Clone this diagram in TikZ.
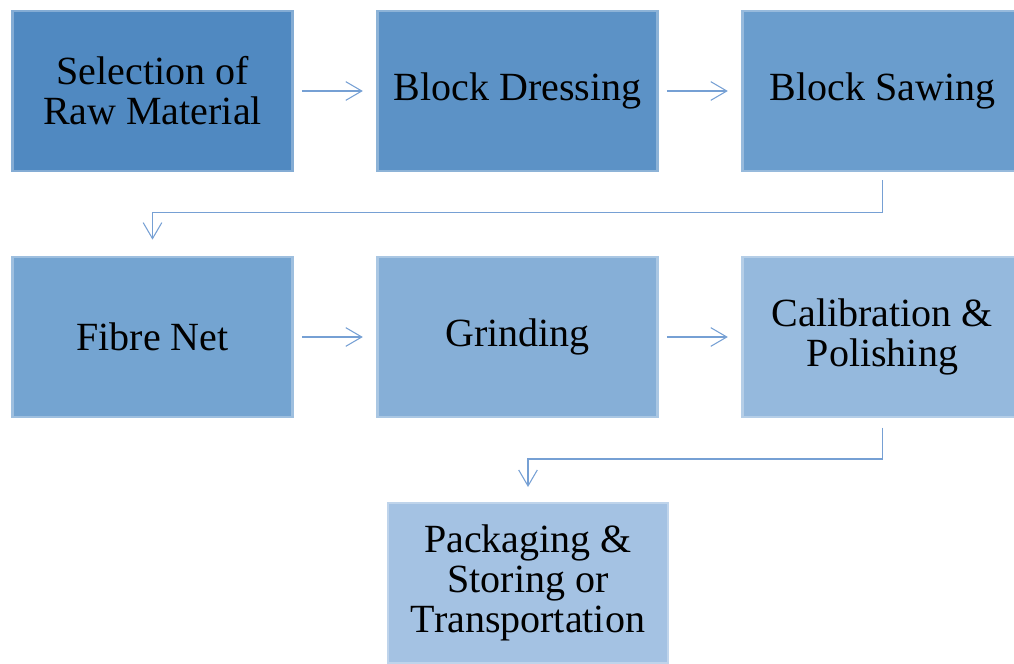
\documentclass[tikz,border=0pt]{standalone}
\usepackage{fontspec}
\setmainfont{Liberation Serif}
\usetikzlibrary{positioning}
\usetikzlibrary{arrows.meta}
\definecolor{stepA}{RGB}{80,137,193}
\definecolor{stepB}{RGB}{92,146,198}
\definecolor{stepC}{RGB}{106,157,205}
\definecolor{stepD}{RGB}{116,164,209}
\definecolor{stepE}{RGB}{134,175,215}
\definecolor{stepF}{RGB}{149,185,221}
\definecolor{stepG}{RGB}{164,194,227}
\definecolor{flowline}{RGB}{118,160,212}
\tikzset{
    % Soft blue process box
    process box/.style={
        fill=#1, draw=#1!70!white, line width=2pt,
        minimum width=210pt, minimum height=120pt,
        inner sep=0, outer sep=0, align=center,
        font=\fontsize{30}{30}\selectfont},
%
    % Thin connector with an open arrow head
    flow/.style={draw=flowline, line width=0.8pt,
        -{Straight Barb[length=12pt, width=14pt]}}}

\begin{document}
\begin{tikzpicture}[x=0.75pt, y=-0.75pt, node distance=64.5pt and 63.75pt]
\useasboundingbox (0,0) rectangle (1014,664);

% First row
\node[process box=stepA] at (152.5,91) (selection) {Selection of\\Raw Material};
\node[process box=stepB, right=of selection] (dressing) {Block Dressing};
\node[process box=stepC, right=of dressing] (sawing) {Block Sawing};

% Second row
\node[process box=stepD, below=of selection] (fibre) {Fibre Net};
\node[process box=stepE, right=of fibre] (grinding) {Grinding};
\node[process box=stepF, right=of grinding] (polishing)
    {Calibration \&\\Polishing};

% Last step
\node[process box=stepG] at (528,583) (packaging)
    {Packaging \&\\Storing or\\Transportation};

\draw[flow, shorten <=7pt, shorten >=11pt] (selection) -- (dressing);
\draw[flow, shorten <=7pt, shorten >=11pt] (dressing) -- (sawing);
\draw[flow, shorten <=7pt, shorten >=13pt]
    (sawing.south) -- ++(0,-31pt) -| (fibre.north);

\draw[flow, shorten <=7pt, shorten >=11pt] (fibre) -- (grinding);
\draw[flow, shorten <=7pt, shorten >=11pt] (grinding) -- (polishing);
\draw[flow, shorten <=8pt, shorten >=12pt]
    (polishing.south) -- ++(0,-31.5pt) -| (packaging.north);
\end{tikzpicture}
\end{document}
